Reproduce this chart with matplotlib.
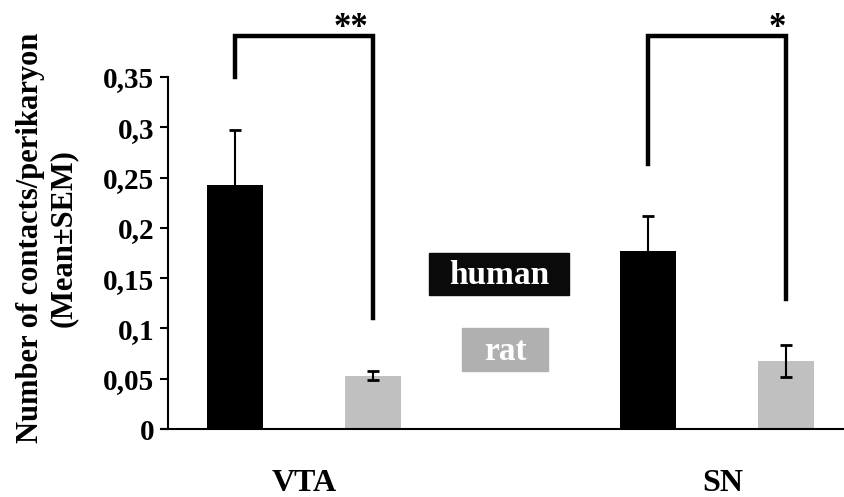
import numpy as np
import matplotlib
matplotlib.use('Agg')
import matplotlib.pyplot as plt
from matplotlib.patches import Rectangle

# data
regions = ['VTA', 'SN']
human_mean = [0.243, 0.177]
human_sem = [0.054, 0.035]
rat_mean = [0.053, 0.068]
rat_sem = [0.0045, 0.016]
stars = ['**', '*']
# bracket leg ends (left leg above human, right leg above rat)
bracket_left = [0.350, 0.263]
bracket_right = [0.110, 0.129]
bracket_top = 0.391
yticks = [0, 0.05, 0.1, 0.15, 0.2, 0.25, 0.3, 0.35]
ytick_labels = ['0', '0,05', '0,1', '0,15', '0,2', '0,25', '0,3', '0,35']

plt.rcParams['font.family'] = ['Liberation Serif', 'DejaVu Serif']
plt.rcParams['font.weight'] = 'bold'

black = '#000000'
grey = '#c0c0c0'

fig = plt.figure(figsize=(8.45, 4.97), dpi=100)
ax = fig.add_axes([168 / 845, 1 - 429 / 497, (845 - 168) / 845, (429 - 77) / 497])

x = np.arange(len(regions))
off = 0.167
w = 0.136

ax.bar(x - off, human_mean, w, color=black, zorder=2)
ax.bar(x + off, rat_mean, w, color=grey, zorder=2)
ax.errorbar(x - off, human_mean, yerr=human_sem, fmt='none', ecolor='black',
            elinewidth=1.5, capsize=4, capthick=2, zorder=3)
ax.errorbar(x + off, rat_mean, yerr=rat_sem, fmt='none', ecolor='black',
            elinewidth=1.5, capsize=4, capthick=2, zorder=3)

# significance brackets, stars sit a bit left of the right leg
star_dx = [-0.053, -0.022]
for i in range(len(regions)):
    xl, xr = x[i] - off, x[i] + off
    ax.plot([xl, xl, xr, xr], [bracket_left[i], bracket_top, bracket_top, bracket_right[i]],
            color='black', lw=3.2, clip_on=False, solid_joinstyle='miter', zorder=4)
    ax.text(xr + star_dx[i], bracket_top - 0.009, stars[i], ha='center', va='bottom',
            fontsize=25, fontweight='bold')

ax.set_xlim(-0.329, 1.31)
ax.set_ylim(0, 0.35)
ax.set_yticks(yticks)
ax.set_yticklabels(ytick_labels, fontsize=21, fontweight='bold')
ax.set_xticks([])
ax.tick_params(axis='y', length=6, width=1.5, pad=4)
for s in ['top', 'right']:
    ax.spines[s].set_visible(False)
ax.spines['left'].set_linewidth(1.5)
ax.spines['bottom'].set_linewidth(1.5)
ax.spines['bottom'].set_bounds(-0.345, 1.31)

# category labels sit a little right of the group centre for SN in the original
label_dx = [0.0, 0.015]
for i, r in enumerate(regions):
    ax.text(x[i] + label_dx[i], -0.054, r, ha='center', va='center', fontsize=23, fontweight='bold')

fig.text(47 / 845, 1 - 238 / 497, 'Number of contacts/perikaryon\n(Mean±SEM)',
         rotation=90, ha='center', va='center', multialignment='center',
         fontsize=22, fontweight='bold', linespacing=1.2)

# legend boxes
fig.add_artist(Rectangle((429 / 845, 1 - 295 / 497), 140 / 845, 42 / 497,
                         transform=fig.transFigure, color='#0a0a0a'))
fig.text(499 / 845, 1 - 276 / 497, 'human', ha='center', va='center', color='white',
         fontsize=24, fontweight='bold')
fig.add_artist(Rectangle((462 / 845, 1 - 371 / 497), 86 / 845, 43 / 497,
                         transform=fig.transFigure, color='#b0b0b0'))
fig.text(505 / 845, 1 - 352 / 497, 'rat', ha='center', va='center', color='white',
         fontsize=24, fontweight='bold')

fig.savefig('out.png', dpi=100)
